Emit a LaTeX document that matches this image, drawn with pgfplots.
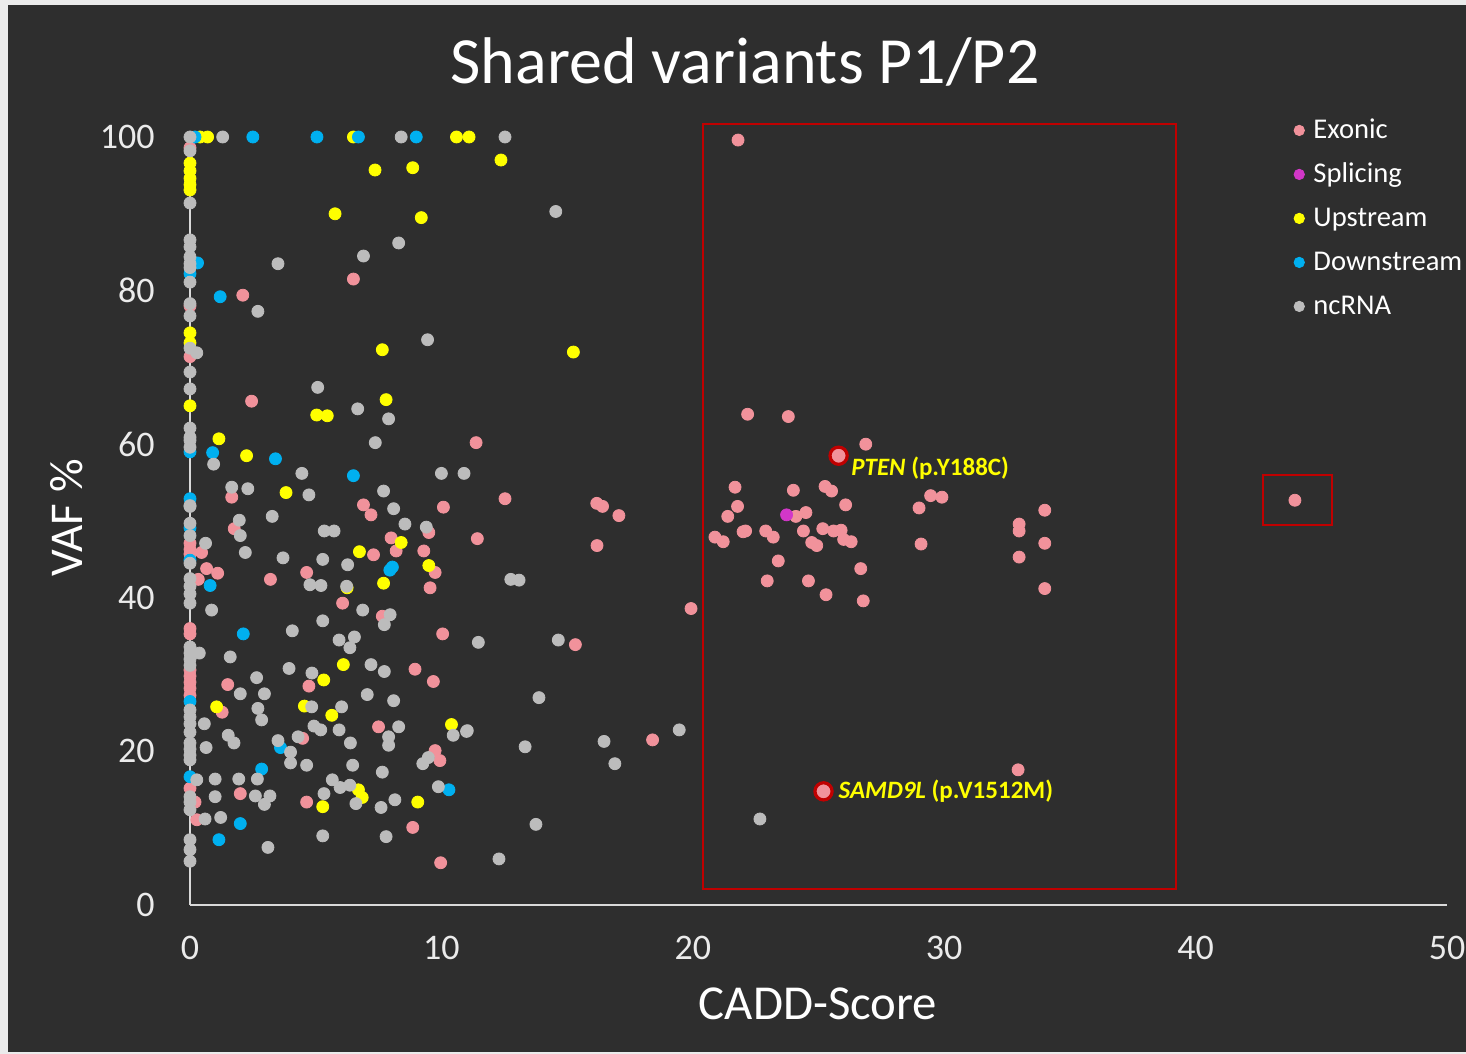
\documentclass[border=0pt]{standalone}
\usepackage{pgfplots}
\pgfplotsset{compat=1.18}
\usepackage{fontspec}
\setmainfont{Carlito}
\definecolor{bg}{RGB}{46,46,46}
\definecolor{exon}{RGB}{241,146,155}
\definecolor{splice}{RGB}{210,55,200}
\definecolor{upst}{RGB}{255,255,0}
\definecolor{downst}{RGB}{0,176,240}
\definecolor{ncrna}{RGB}{188,188,188}
\definecolor{axgray}{RGB}{217,217,217}
\definecolor{boxred}{RGB}{192,0,0}
\definecolor{ticktxt}{RGB}{235,235,235}
\begin{document}
\begin{tikzpicture}
\useasboundingbox (0,0) rectangle (733pt,527pt);
\fill[white!92!black] (0,0) rectangle (733pt,527pt);
\fill[bg] (4pt,1pt) rectangle (733pt,524.5pt);
\begin{axis}[
  at={(95pt,74.5pt)}, anchor=south west,
  scale only axis, width=628.5pt, height=384pt,
  xmin=0, xmax=50, ymin=0, ymax=100,
  axis x line=bottom, axis y line=left,
  axis line style={axgray, line width=0.8pt, -},
  xtick={0,10,20,30,40,50}, ytick={0,20,40,60,80,100},
  major tick length=0pt,
  /pgf/number format/assume math mode=true,
  tick label style={text=ticktxt, font=\fontsize{18pt}{20pt}\selectfont, inner sep=0pt},
  xticklabel style={anchor=base, yshift=-27.2pt},
  yticklabel style={anchor=east, xshift=-17.5pt},
  clip=false,
  legend style={at={(0.878,1.0273)}, anchor=north west, draw=none, fill=none,
    text=white, font=\fontsize{14.3pt}{16pt}\selectfont, inner sep=0pt, row sep=8pt,
    nodes={inner sep=0pt, text height=11pt, text depth=3pt},
    /tikz/every odd column/.append style={column sep=4.5pt}},
  legend cell align=left,
  legend image code/.code={\draw[#1, mark size=2.6pt] plot coordinates {(0pt,0pt)};},
]
% Exonic
\addplot[only marks, mark=*, mark size=3pt, mark options={fill=exon, draw=exon}] coordinates {
(0,98.6) (0,78.0) (0,71.4) (0,47.1) (0,46.3) (0.46,45.9) (0,45.7) (0.66,43.8) (1.1,43.2) (0.33,42.4)
(0,36.0) (0,35.3) (0,30.6) (0,29.8) (0,29.0) (0,28.2) (0,27.3) (0,15.2) (0.2,13.4) (0.27,11.1)
(6.5,81.5) (2.1,79.4) (2.45,65.6) (1.66,53.1) (6.9,52.1) (10.08,51.8) (7.2,50.8) (1.76,49.0) (9.5,48.5)
(8.0,47.8) (7.3,45.6) (8.2,46.1) (9.3,46.1) (9.75,43.3) (9.55,41.3) (3.2,42.4) (4.64,43.3) (6.07,39.3)
(7.65,37.6) (10.05,35.3) (8.95,30.7) (9.68,29.1) (4.73,28.5) (1.5,28.7) (1.28,25.1) (7.5,23.2) (4.48,21.7)
(9.75,20.1) (9.94,18.8) (2.0,14.5) (4.64,13.4) (8.86,10.1) (9.97,5.5) (11.38,60.2) (12.53,52.9)
(16.18,52.3) (16.41,51.9) (17.06,50.7) (11.43,47.7) (16.19,46.8) (19.93,38.6) (15.33,33.9) (18.4,21.5)
(21.8,99.6) (22.18,63.9) (23.8,63.6) (26.88,60.0) (21.68,54.4) (24.0,54.0) (25.26,54.5) (25.52,53.9)
(26.08,52.1) (21.78,51.9) (21.39,50.6) (24.1,50.6) (24.5,51.1) (20.88,47.9) (21.21,47.3) (22.0,48.6)
(22.1,48.7) (22.9,48.7) (23.2,47.9) (24.4,48.7) (25.17,49.0) (25.6,48.7) (25.9,48.8) (26.0,47.6)
(26.3,47.3) (24.73,47.2) (24.93,46.8) (23.4,44.8) (22.96,42.2) (24.6,42.2) (25.3,40.4) (26.68,43.8)
(26.78,39.6) (29.0,51.7) (29.46,53.3) (29.91,53.1) (29.08,47.0) (32.98,49.6) (32.98,48.7) (32.98,45.3)
(34.0,51.4) (34.0,47.1) (34.0,41.2) (32.94,17.6) (43.95,52.7)
};
% Splicing
\addplot[only marks, mark=*, mark size=3pt, mark options={fill=splice, draw=splice}] coordinates {
(23.73,50.8)
};
% Upstream
\addplot[only marks, mark=*, mark size=3pt, mark options={fill=upst, draw=upst}] coordinates {
(0.4,100) (0.7,100) (6.5,100) (10.6,100) (11.1,100) (12.37,97.0) (7.36,95.7) (8.86,96.0) (5.77,90.0)
(9.2,89.5) (0,96.6) (0,95.6) (0,94.6) (0,93.8) (0,93.1) (0,74.5) (0,73.2) (0,65.0) (15.25,72.0)
(7.65,72.3) (7.8,65.8) (5.04,63.8) (5.46,63.7) (1.15,60.7) (2.25,58.5) (3.82,53.7) (6.74,46.0)
(8.4,47.2) (9.5,44.2) (7.7,41.9) (6.25,41.3) (6.1,31.3) (5.32,29.3) (1.06,25.8) (4.55,25.9)
(5.64,24.7) (10.4,23.5) (6.7,15.0) (6.85,14.0) (5.28,12.8) (9.06,13.4)
};
% Downstream
\addplot[only marks, mark=*, mark size=3pt, mark options={fill=downst, draw=downst}] coordinates {
(0.2,100) (2.5,100) (5.05,100) (6.7,100) (9.0,100) (0.3,83.6) (0,82.2) (1.2,79.2) (0,59.0) (0.9,58.9)
(3.4,58.1) (6.5,55.9) (0,52.9) (0,49.1) (0,44.9) (0.8,41.6) (7.95,43.6) (8.05,44.0) (2.12,35.3)
(0,26.5) (3.6,20.5) (2.85,17.7) (10.3,15.0) (2.0,10.6) (1.15,8.5) (0,16.7)
};
% ncRNA
\addplot[only marks, mark=*, mark size=3pt, mark options={fill=ncrna, draw=ncrna}] coordinates {
(0,100) (1.3,100) (8.4,100) (12.53,100)
(0,98.2) (0,91.4) (0,86.6) (0,85.7) (0,84.4) (0,83.5) (0,83.0) (0,81.1) (0,78.3) (0,76.7) (0.27,71.9)
(0,72.5) (0,69.4) (0,67.2) (0,62.1) (0,60.9) (0,60.5) (0,59.6) (0,52.0) (0,51.9) (0,49.7) (0,48.1)
(0,44.5) (0,42.5) (0,41.5) (0,40.5) (0,39.3) (0,33.6) (0,32.8) (0.37,32.8) (0,32.0) (0,31.2) (0,25.4)
(0,24.5) (0,23.6) (0,22.5) (0,21.1) (0,20.3) (0,19.5) (0,18.9) (0.27,16.3) (0,14.1) (0,13.4) (0,12.4)
(0,8.5) (0,7.2) (0,5.7) (0.57,23.6) (0.64,20.5) (0.62,47.1)
(8.3,86.2) (6.9,84.5) (3.5,83.5) (2.7,77.3) (9.45,73.6) (5.08,67.4) (6.67,64.6) (7.9,63.3) (7.37,60.2)
(0.94,57.4) (4.45,56.2) (10.0,56.2) (10.9,56.2) (1.66,54.4) (2.3,54.2) (4.73,53.4) (7.7,53.9) (8.1,51.6)
(3.27,50.6) (1.96,50.1) (2.0,48.1) (5.34,48.7) (5.73,48.7) (8.55,49.6) (9.4,49.2) (2.2,45.9) (3.7,45.2)
(5.28,45.0) (6.27,44.3) (4.77,41.7) (5.21,41.6) (6.23,41.5) (6.87,38.4) (0.86,38.4) (5.28,37.0)
(7.96,37.8) (7.73,36.5) (4.07,35.7) (5.93,34.5) (6.54,34.9) (6.36,33.5) (1.6,32.3) (3.94,30.8)
(7.2,31.3) (7.73,30.4) (4.85,30.2) (2.65,29.6) (2.0,27.5) (2.96,27.5) (7.05,27.4) (8.1,26.6) (4.84,25.8)
(6.03,25.8) (2.7,25.6) (2.85,24.1) (8.3,23.2) (7.9,21.9) (7.9,20.8) (10.47,22.1) (11.0,22.6) (1.52,22.1)
(1.75,21.1) (3.5,21.4) (4.0,19.9) (4.0,18.5) (4.3,21.9) (4.64,18.2) (4.93,23.3) (5.2,22.8) (5.93,22.8)
(6.38,21.1) (6.47,18.2) (7.65,17.3) (2.68,16.4) (1.0,16.4) (1.94,16.4) (1.0,14.1) (2.6,14.2) (3.18,14.2)
(2.96,13.1) (5.66,16.3) (5.97,15.3) (6.36,15.6) (6.6,13.2) (5.33,14.5) (7.6,12.7) (8.15,13.7) (9.88,15.4)
(9.26,18.4) (9.48,19.2) (7.8,8.9) (5.28,9.0) (3.1,7.5) (0.6,11.2) (1.22,11.4) (14.55,90.3) (12.76,42.4)
(13.09,42.3) (11.47,34.2) (14.65,34.5) (13.88,27.0) (11.03,22.7) (13.33,20.6) (16.47,21.3) (16.9,18.4)
(19.46,22.8) (13.76,10.5) (12.29,6.0) (22.67,11.2)
};
\legend{Exonic, Splicing, Upstream, Downstream, ncRNA}
% highlighted variants
\addplot[forget plot, only marks, mark=*, mark size=4.3pt, mark options={fill=exon, draw=boxred, line width=1.6pt}] coordinates {
(25.8,58.5) (25.2,14.8)
};
\node[anchor=west, inner sep=0pt, text=upst, font=\fontsize{12.5pt}{14pt}\selectfont\bfseries] at (axis cs:26.29,56.9) {\textit{PTEN} (p.Y188C)};
\node[anchor=west, inner sep=0pt, text=upst, font=\fontsize{12.5pt}{14pt}\selectfont\bfseries] at (axis cs:25.78,14.84) {\textit{SAMD9L} (p.V1512M)};
\draw[boxred, line width=1pt] (axis cs:20.4,2.1) rectangle (axis cs:39.22,101.7);
\draw[boxred, line width=1pt] (axis cs:42.68,49.5) rectangle (axis cs:45.43,56.0);
\end{axis}
\node[anchor=base, text=white, font=\fontsize{33pt}{36pt}\selectfont] at (372.5pt,485pt) {Shared variants P1/P2};
\node[anchor=base, text=white, font=\fontsize{24.4pt}{28pt}\selectfont] at (409pt,17pt) {CADD-Score};
\node[anchor=base, rotate=90, text=white, font=\fontsize{23.5pt}{28pt}\selectfont] at (41pt,268pt) {VAF \%};
\end{tikzpicture}
\end{document}
